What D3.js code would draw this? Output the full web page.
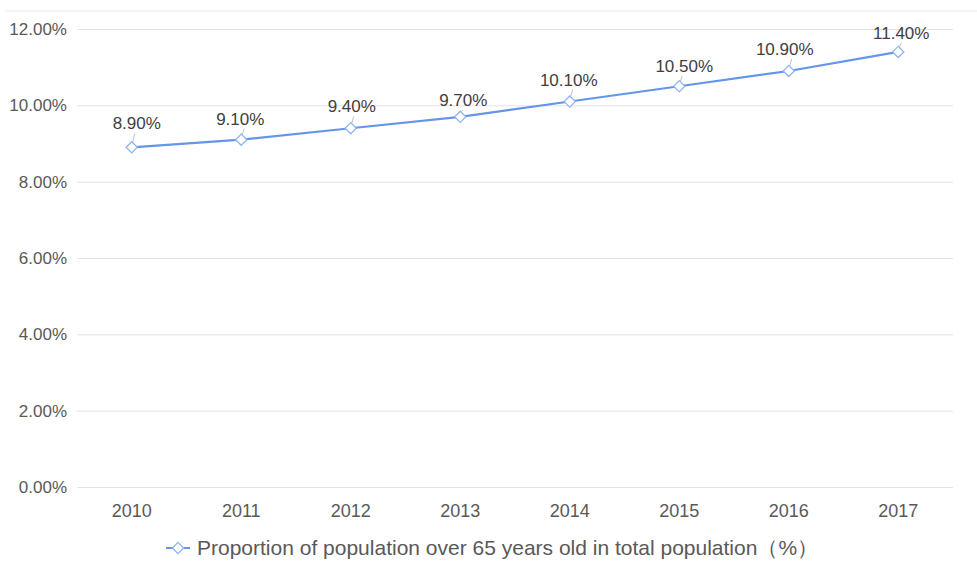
<!DOCTYPE html>
<html>
<head>
<meta charset="utf-8">
<script src="https://cdn.jsdelivr.net/npm/d3@7"></script>
<style>
  body { margin: 0; background: #fff; }
  text { font-family: "Liberation Sans", Arial, sans-serif; }
</style>
</head>
<body>
<div id="viz"></div>
<script>
// data
let years = ['2010', '2011', '2012', '2013', '2014', '2015', '2016', '2017']
let shares = [8.9, 9.1, 9.4, 9.7, 10.1, 10.5, 10.9, 11.4]
let yTicks = [0, 2, 4, 6, 8, 10, 12]
// label offsets (dx, dy above marker) as drawn in the original
let labelDx = [5, -1, 1, 3, -1, 5, -4, 3]
let labelDy = [24, 21, 22, 17, 22, 20, 22, 19]
let seriesName = 'Proportion of population over 65 years old in total population（%）'

let width = 977, height = 572
let lineColor = '#6495e8'
let markerColor = '#8fb5f0'
let textColor = '#595959'

let svg = d3.select('#viz')
			.append('svg')
			.attr('width', width)
			.attr('height', height)

let x = d3.scaleBand()
			.domain(years)
			.range([77, 953])

let y = d3.scaleLinear()
			.domain([0, 12])
			.range([487, 29])

// top border
svg.append('line')
	.attr('x1', 5).attr('x2', width)
	.attr('y1', 11).attr('y2', 11)
	.attr('stroke', '#ececec')

// y grid + labels
let yAxis = svg.append('g')
	.attr('transform', 'translate(77,0)')
	.call(d3.axisLeft(y)
		.tickValues(yTicks)
		.tickSize(-876)
		.tickPadding(10)
		.tickFormat(d => d.toFixed(2) + '%'))
yAxis.select('.domain').remove()
yAxis.selectAll('line').attr('stroke', '#e3e3e3')
yAxis.selectAll('text')
	.attr('fill', textColor)
	.style('font-size', '17px')
	.style('font-family', '"Liberation Sans", Arial, sans-serif')

// x labels
let xAxis = svg.append('g')
	.attr('transform', 'translate(0,487)')
	.call(d3.axisBottom(x).tickSize(0).tickPadding(17))
xAxis.select('.domain').remove()
xAxis.selectAll('text')
	.attr('fill', textColor)
	.style('font-size', '18px')
	.style('font-family', '"Liberation Sans", Arial, sans-serif')

let cx = d => x(d) + x.bandwidth() / 2

// line
svg.append('path')
	.datum(shares)
	.attr('fill', 'none')
	.attr('stroke', lineColor)
	.attr('stroke-width', 2.2)
	.attr('d', d3.line()
		.x((d, i) => cx(years[i]))
		.y(d => y(d)))

// leader lines
svg.selectAll('.leader')
	.data(shares)
	.enter()
	.append('line')
	.attr('x1', (d, i) => cx(years[i]) + 1)
	.attr('y1', d => y(d) - 5)
	.attr('x2', (d, i) => cx(years[i]) + 3)
	.attr('y2', (d, i) => y(d) - labelDy[i] + 10)
	.attr('stroke', '#b0b0b0')
	.attr('stroke-width', 0.8)

// markers
let diamond = d3.symbol().type(d3.symbolDiamond2).size(80)
svg.selectAll('.marker')
	.data(shares)
	.enter()
	.append('path')
	.attr('d', diamond)
	.attr('transform', (d, i) => `translate(${cx(years[i])},${y(d)})`)
	.attr('fill', '#fff')
	.attr('stroke', markerColor)
	.attr('stroke-width', 1.3)

// data labels
svg.selectAll('.lbl')
	.data(shares)
	.enter()
	.append('text')
	.attr('x', (d, i) => cx(years[i]) + labelDx[i])
	.attr('y', (d, i) => y(d) - labelDy[i] + 6)
	.attr('text-anchor', 'middle')
	.attr('fill', '#404040')
	.style('font-size', '17px')
	.text(d => d.toFixed(2) + '%')

// legend
let legend = svg.append('g').attr('transform', 'translate(166,548)')
legend.append('line')
	.attr('x1', 0).attr('x2', 24)
	.attr('stroke', lineColor)
	.attr('stroke-width', 2)
legend.append('path')
	.attr('d', diamond)
	.attr('transform', 'translate(12,0)')
	.attr('fill', '#fff')
	.attr('stroke', markerColor)
	.attr('stroke-width', 1.3)
legend.append('text')
	.attr('x', 31)
	.attr('y', 7)
	.attr('fill', textColor)
	.style('font-size', '21px')
	.text(seriesName)
</script>
</body>
</html>
